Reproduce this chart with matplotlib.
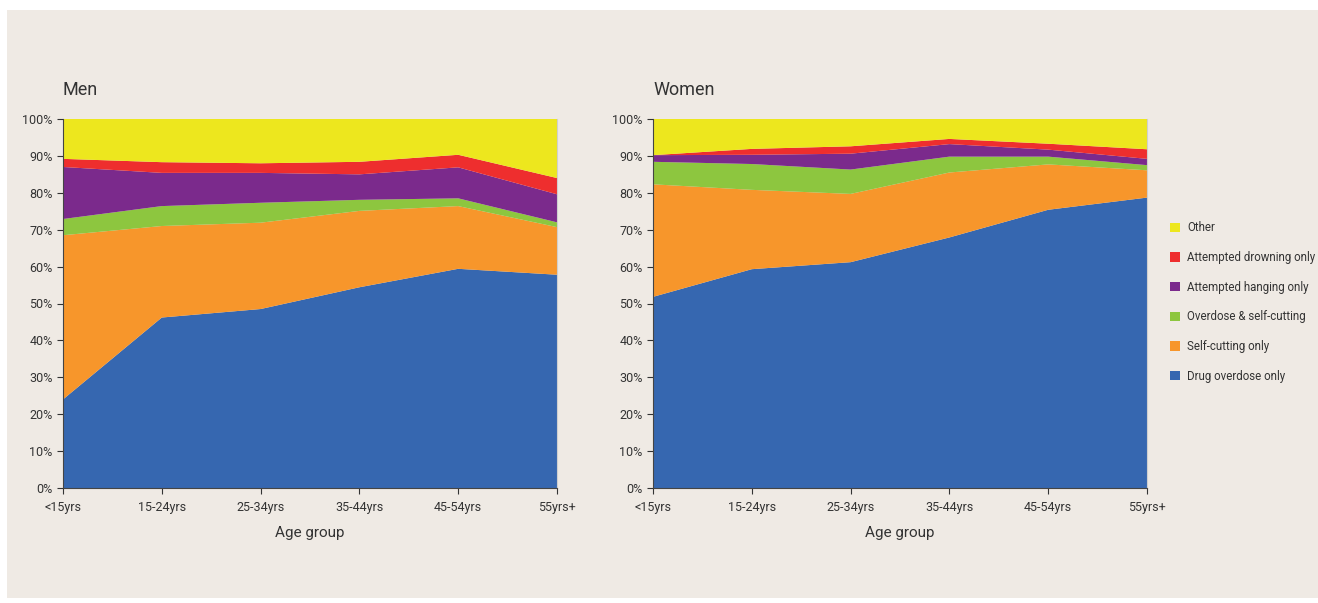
import numpy as np
import matplotlib.pyplot as plt
from matplotlib.patches import Rectangle, Patch
from matplotlib.ticker import PercentFormatter

plt.rcParams['font.family'] = ['Roboto', 'DejaVu Sans']

ages = ['<15yrs', '15-24yrs', '25-34yrs', '35-44yrs', '45-54yrs', '55yrs+']
methods = ['Drug overdose only', 'Self-cutting only', 'Overdose & self-cutting',
           'Attempted hanging only', 'Attempted drowning only', 'Other']
colors = ['#3667b0', '#f7962b', '#8dc63f', '#7b2a8c', '#ee2e2e', '#ede71e']

# percentages per age group
men_drug = [24.0, 46.2, 48.5, 54.4, 59.4, 57.8]
men_cut = [44.5, 24.8, 23.4, 20.7, 17.0, 12.9]
men_odcut = [4.4, 5.4, 5.4, 3.0, 2.1, 1.3]
men_hang = [14.1, 9.0, 8.1, 6.9, 8.4, 7.6]
men_drown = [2.2, 2.9, 2.6, 3.4, 3.4, 4.4]
men_other = [10.8, 11.7, 12.0, 11.6, 9.7, 16.0]

women_drug = [51.8, 59.3, 61.2, 67.9, 75.4, 78.7]
women_cut = [30.5, 21.5, 18.5, 17.6, 12.3, 7.4]
women_odcut = [6.1, 7.0, 6.6, 4.3, 2.1, 1.4]
women_hang = [1.8, 2.5, 4.3, 3.4, 1.9, 1.7]
women_drown = [0.0, 1.6, 2.0, 1.4, 1.6, 2.6]
women_other = [9.8, 8.1, 7.4, 5.4, 6.7, 8.2]

men = [men_drug, men_cut, men_odcut, men_hang, men_drown, men_other]
women = [women_drug, women_cut, women_odcut, women_hang, women_drown, women_other]

bg = '#efeae4'
txt = '#333333'

fig = plt.figure(figsize=(13.18, 6.03), dpi=100, facecolor='white')
fig.patches.append(Rectangle((7/1318, 5/603), 1311/1318, 588/603,
                             transform=fig.transFigure, facecolor=bg,
                             edgecolor='none', zorder=-10))

ax1 = fig.add_axes([63/1318, 1-488/603, 494/1318, 369/603])
ax2 = fig.add_axes([653/1318, 1-488/603, 494/1318, 369/603])

x = np.arange(len(ages))
for ax, data, title in [(ax1, men, 'Men'), (ax2, women, 'Women')]:
    ax.set_facecolor(bg)
    ax.stackplot(x, np.array(data), colors=colors, linewidth=0)
    ax.set_xlim(0, len(ages) - 1)
    ax.set_ylim(0, 100)
    ax.set_yticks(np.arange(0, 101, 10))
    ax.yaxis.set_major_formatter(PercentFormatter(decimals=0))
    ax.set_xticks(x)
    ax.set_xticklabels(ages)
    ax.tick_params(colors=txt, labelsize=9, length=4, width=0.8, direction='out')
    ax.tick_params(axis='x', pad=5)
    ax.spines['top'].set_visible(False)
    ax.spines['right'].set_color('#cfcfcf')
    ax.spines['left'].set_color('#444444')
    ax.spines['bottom'].set_color('#444444')
    ax.set_xlabel('Age group', fontsize=11, color=txt, labelpad=9)
    ax.text(0, 1.055, title, transform=ax.transAxes, fontsize=13, color=txt,
            ha='left', va='bottom')

handles = [Patch(facecolor=c, edgecolor='none', label=m) for c, m in zip(colors, methods)]
fig.legend(handles[::-1], methods[::-1], loc='center left',
           bbox_to_anchor=(1160/1318, 1-302/603), frameon=False, fontsize=8.3,
           labelcolor=txt, handlelength=0.85, handleheight=0.85, handletextpad=0.6,
           labelspacing=1.45)

fig.savefig('out.png', dpi=100, facecolor=fig.get_facecolor())
